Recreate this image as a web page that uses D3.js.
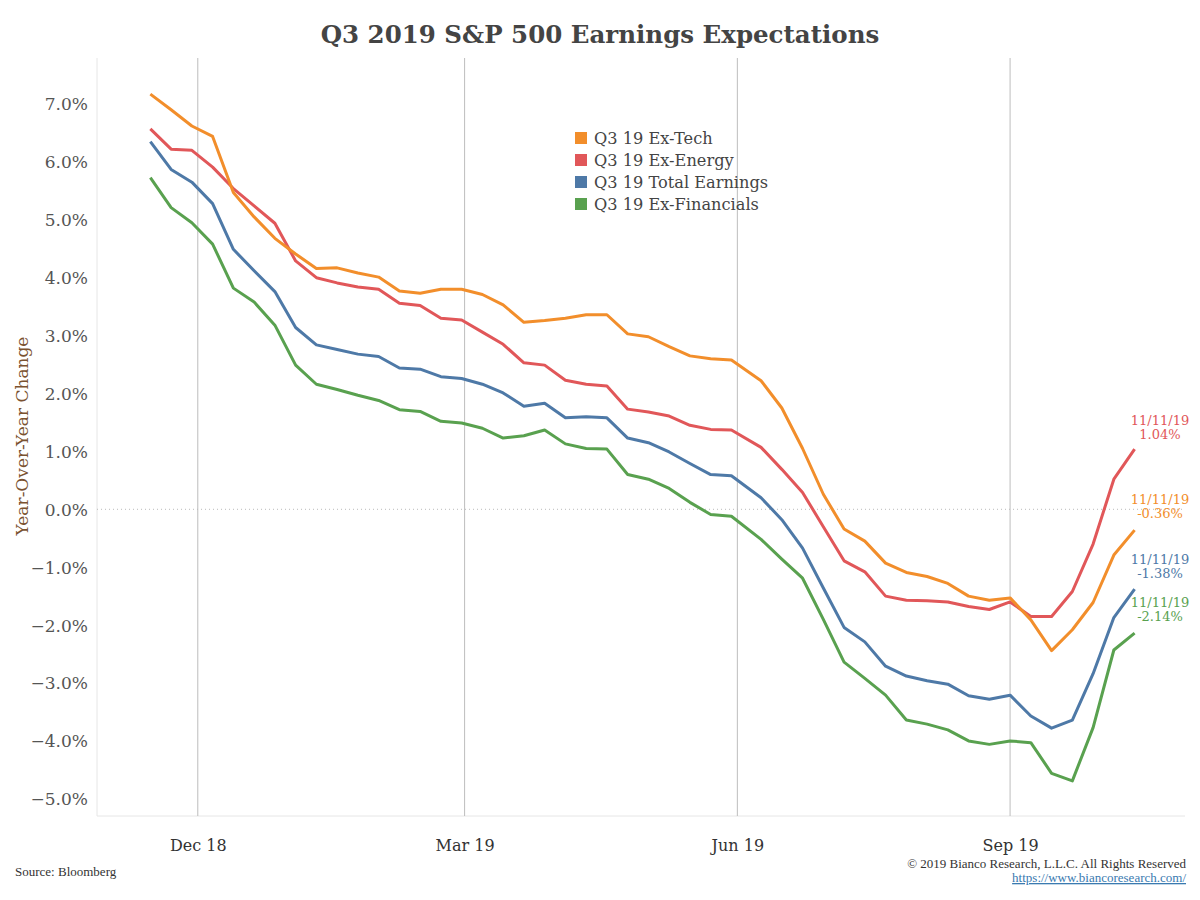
<!DOCTYPE html>
<html><head><meta charset="utf-8">
<script src="https://cdn.jsdelivr.net/npm/d3@7"></script>
<style>body{margin:0;background:#fff}svg{display:block}</style>
</head><body>
<svg id="chart" width="1200" height="900"></svg>
<script>
const dates = ["2018-11-15","2018-11-22","2018-11-29","2018-12-06","2018-12-13","2018-12-20","2018-12-27",
"2019-01-03","2019-01-10","2019-01-17","2019-01-24","2019-01-31","2019-02-07","2019-02-14","2019-02-21","2019-02-28",
"2019-03-07","2019-03-14","2019-03-21","2019-03-28","2019-04-04","2019-04-11","2019-04-18","2019-04-25",
"2019-05-02","2019-05-09","2019-05-16","2019-05-23","2019-05-30",
"2019-06-09","2019-06-16","2019-06-23","2019-06-30","2019-07-07","2019-07-14","2019-07-21","2019-07-28",
"2019-08-04","2019-08-11","2019-08-18","2019-08-25","2019-09-01","2019-09-08","2019-09-15","2019-09-22",
"2019-09-29","2019-10-06","2019-10-13"];
const exTech = [7.17,6.90,6.62,6.44,5.47,5.05,4.68,4.41,4.16,4.17,4.08,4.01,3.77,3.73,3.80,3.80,3.71,3.53,3.23,3.26,3.30,3.36,3.36,3.03,2.98,2.81,2.65,2.60,2.58,2.22,1.75,1.05,0.26,-0.34,-0.55,-0.93,-1.09,-1.16,-1.28,-1.50,-1.57,-1.53,-1.91,-2.44,-2.08,-1.61,-0.79,-0.36];
const exEnergy = [6.57,6.22,6.20,5.91,5.54,5.24,4.94,4.29,4.00,3.91,3.84,3.80,3.56,3.52,3.30,3.27,3.06,2.85,2.53,2.49,2.23,2.16,2.13,1.73,1.68,1.61,1.45,1.38,1.37,1.07,0.69,0.29,-0.30,-0.89,-1.08,-1.50,-1.57,-1.58,-1.60,-1.68,-1.73,-1.60,-1.85,-1.85,-1.42,-0.60,0.52,1.04];
const totalEarnings = [6.35,5.87,5.65,5.28,4.49,4.12,3.76,3.14,2.84,2.76,2.68,2.64,2.44,2.42,2.29,2.26,2.16,2.01,1.78,1.83,1.58,1.60,1.58,1.23,1.15,0.99,0.79,0.60,0.58,0.20,-0.18,-0.67,-1.36,-2.04,-2.29,-2.71,-2.88,-2.96,-3.02,-3.22,-3.28,-3.21,-3.57,-3.78,-3.64,-2.84,-1.87,-1.38];
const exFinancials = [5.73,5.21,4.95,4.58,3.82,3.58,3.18,2.49,2.16,2.07,1.97,1.88,1.72,1.69,1.52,1.49,1.40,1.23,1.27,1.37,1.13,1.05,1.04,0.60,0.52,0.36,0.12,-0.09,-0.12,-0.52,-0.86,-1.19,-1.90,-2.64,-2.92,-3.21,-3.64,-3.71,-3.81,-4.00,-4.06,-4.00,-4.03,-4.56,-4.69,-3.77,-2.43,-2.14];
const seriesNames = ["Q3 19 Ex-Tech","Q3 19 Ex-Energy","Q3 19 Total Earnings","Q3 19 Ex-Financials"];
const seriesColors = ["#f28e2b","#e15759","#4e79a7","#59a14f"];
const endLabels = ["-0.36%","1.04%","-1.38%","-2.14%"];
const endDate = "11/11/19";
const yTicks = [7,6,5,4,3,2,1,0,-1,-2,-3,-4,-5];
const xTickDates = ["2018-12-01","2019-03-01","2019-06-01","2019-09-01"];
const xTickLabels = ["Dec 18","Mar 19","Jun 19","Sep 19"];

const allSeries = [exTech, exEnergy, totalEarnings, exFinancials];
const parse = d3.timeParse("%Y-%m-%d");
const font = "Georgia, 'DejaVu Serif', serif";
const fontNarrow = "'Liberation Serif', 'Times New Roman', serif";
const svg = d3.select("#chart");

const L = 97, R = 1185, T = 58, B = 816;
const x = d3.scaleTime().domain([parse("2018-10-28"), parse("2019-10-30")]).range([L, R]);
const y = d3.scaleLinear().domain([-5, 7]).range([798.8, 104]);

// title
svg.append("text").attr("x", 600).attr("y", 43).attr("text-anchor", "middle")
  .attr("font-family", font).attr("font-weight", "bold").attr("font-size", 24.5).attr("fill", "#444")
  .text("Q3 2019 S&P 500 Earnings Expectations");

// plot borders
svg.append("line").attr("x1", L).attr("x2", L).attr("y1", T).attr("y2", B).attr("stroke", "#e6e6e6");
svg.append("line").attr("x1", L).attr("x2", R).attr("y1", B).attr("y2", B).attr("stroke", "#e6e6e6");

// vertical gridlines
svg.append("g").selectAll("line").data(xTickDates).join("line")
  .attr("x1", d => x(parse(d))).attr("x2", d => x(parse(d)))
  .attr("y1", T).attr("y2", B).attr("stroke", "#bdbdbd").attr("stroke-width", 1);

// zero line
svg.append("line").attr("x1", L).attr("x2", R).attr("y1", y(0)).attr("y2", y(0))
  .attr("stroke", "#bbb").attr("stroke-dasharray", "1,3");

// y axis
const yAxis = d3.axisLeft(y).tickValues(yTicks).tickSize(0).tickPadding(0)
  .tickFormat(d => d3.format(".1f")(d) + "%");
const gy = svg.append("g").attr("transform", `translate(${L - 9},0)`).call(yAxis);
gy.select(".domain").remove();
gy.selectAll("text").attr("font-family", font).attr("font-size", 17).attr("fill", "#555").attr("dy", "0.35em");

// x axis
const xAxis = d3.axisBottom(x).tickValues(xTickDates.map(parse)).tickSize(0).tickPadding(0)
  .tickFormat((d, i) => xTickLabels[i]);
const gx = svg.append("g").attr("transform", `translate(0,${B + 24})`).call(xAxis);
gx.select(".domain").remove();
gx.selectAll("text").attr("font-family", font).attr("font-size", 16).attr("fill", "#333");

// y title
svg.append("text").attr("transform", "translate(28,436) rotate(-90)").attr("text-anchor", "middle")
  .attr("font-family", font).attr("font-size", 17).attr("fill", "#7a5230")
  .text("Year-Over-Year Change");

// lines
const line = d3.line().x((d, i) => x(parse(dates[i]))).y(d => y(d));
const drawOrder = [3, 2, 1, 0];
drawOrder.forEach(s => {
  svg.append("path").datum(allSeries[s]).attr("d", line).attr("fill", "none")
    .attr("stroke", seriesColors[s]).attr("stroke-width", 3).attr("stroke-linejoin", "round");
});

// end labels
const labelY = [511, 432, 571, 614];
allSeries.forEach((s, i) => {
  const g = svg.append("text").attr("x", 1160).attr("text-anchor", "middle")
    .attr("font-family", font).attr("font-size", 13).attr("fill", seriesColors[i]);
  g.append("tspan").attr("x", 1160).attr("y", labelY[i] - 7).text(endDate);
  g.append("tspan").attr("x", 1160).attr("y", labelY[i] + 7).text(endLabels[i]);
});

// legend
const lg = svg.append("g").attr("transform", "translate(575,138)");
seriesNames.forEach((n, i) => {
  lg.append("rect").attr("x", 0).attr("y", i * 22 - 6).attr("width", 12).attr("height", 12).attr("fill", seriesColors[i]);
  lg.append("text").attr("x", 19).attr("y", i * 22).attr("dy", "0.35em")
    .attr("font-family", font).attr("font-size", 16.2).attr("fill", "#444").text(n);
});

// footer
svg.append("text").attr("x", 15).attr("y", 876).attr("font-family", fontNarrow).attr("font-size", 13).attr("fill", "#333").text("Source: Bloomberg");
svg.append("text").attr("x", 1186).attr("y", 868).attr("text-anchor", "end").attr("font-family", fontNarrow).attr("font-size", 13).attr("fill", "#333").text("© 2019 Bianco Research, L.L.C. All Rights Reserved");
svg.append("text").attr("x", 1186).attr("y", 882).attr("text-anchor", "end").attr("font-family", fontNarrow).attr("font-size", 13).attr("fill", "#3a7ab0").attr("text-decoration", "underline").text("https://www.biancoresearch.com/");
</script>
</body></html>
